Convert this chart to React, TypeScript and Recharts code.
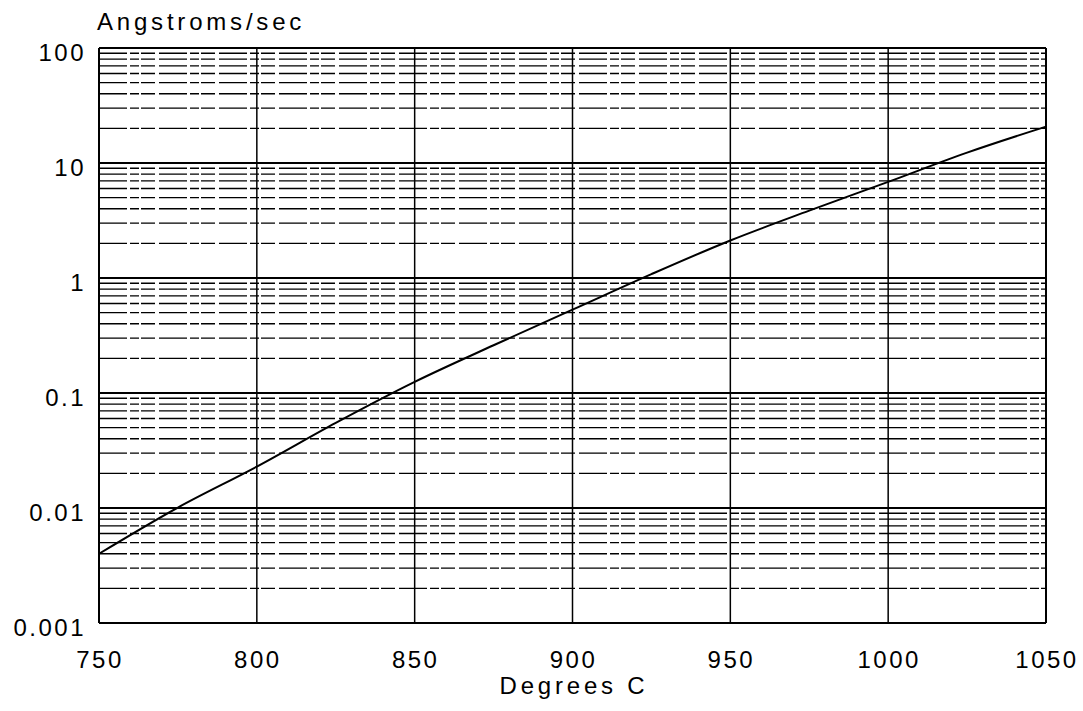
import { LineChart, Line, XAxis, YAxis, CartesianGrid, ReferenceLine } from 'recharts'

const temps = [750, 775, 800, 825, 850, 875, 900, 925, 950, 975, 1000, 1025, 1050]
const rates = [0.004, 0.0101, 0.0229, 0.055, 0.125, 0.26, 0.53, 1.08, 2.12, 3.85, 6.85, 12.3, 20.7]
const xTicks = [750, 800, 850, 900, 950, 1000, 1050]
const yTicks = [0.001, 0.01, 0.1, 1, 10, 100]
const minorSteps = [2, 3, 4, 5, 6, 7, 8, 9]

const data = temps.map((t, i) => ({ t, rate: rates[i] }))
const minorLines = yTicks.slice(0, -1).flatMap(d => minorSteps.map(m => +(d * m).toPrecision(3)))

const FONT = '"Liberation Sans", Arial, sans-serif'

const YTick = ({ y, payload }: any) => (
    <text x={86} y={y + 4} textAnchor="end" dominantBaseline="central"
        fontFamily={FONT} fontSize={24} letterSpacing={2.5} fill="#000">
        {String(payload.value)}
    </text>
)

const XTick = ({ x, payload }: any) => (
    <text x={x + 1} y={659} textAnchor="middle" dominantBaseline="central"
        fontFamily={FONT} fontSize={24} letterSpacing={2.5} fill="#000">
        {payload.value}
    </text>
)

export default function App() {
    return (
        <div style={{ position: 'absolute', left: 0, top: 0, width: 1083, height: 711, background: '#fff', fontFamily: FONT }}>
            <LineChart width={1083} height={711} data={data}
                margin={{ top: 48, right: 37, left: 0, bottom: 0 }}>
                <CartesianGrid stroke="#000" strokeWidth={2} vertical={false} />
                <CartesianGrid stroke="#000" strokeWidth={1.5} horizontal={false} />
                {minorLines.map(v => (
                    <ReferenceLine key={v} y={v} stroke="#000" strokeWidth={1.3}
                        strokeDasharray="28 3 9 2 14 4" />
                ))}
                <ReferenceLine y={100} stroke="#000" strokeWidth={2} />
                <ReferenceLine x={1050} stroke="#000" strokeWidth={2} />
                <XAxis dataKey="t" type="number" domain={[750, 1050]} ticks={xTicks}
                    height={88} tickLine={false} axisLine={{ stroke: '#000', strokeWidth: 2 }}
                    tick={<XTick />} interval={0} />
                <YAxis scale="log" domain={[0.001, 100]} ticks={yTicks} allowDataOverflow
                    width={99} tickLine={false} axisLine={{ stroke: '#000', strokeWidth: 2 }}
                    tick={<YTick />} interval={0} />
                <Line dataKey="rate" type="monotone" stroke="#000" strokeWidth={2}
                    dot={false} isAnimationActive={false} />
            </LineChart>
            <div style={{ position: 'absolute', left: 97, top: 9, fontSize: 24, lineHeight: '26px', letterSpacing: 3.8 }}>
                Angstroms/sec
            </div>
            <div style={{ position: 'absolute', left: 574, top: 673, fontSize: 24, lineHeight: '26px', letterSpacing: 3.8, transform: 'translateX(-50%)', whiteSpace: 'nowrap' }}>
                Degrees C
            </div>
        </div>
    )
}
